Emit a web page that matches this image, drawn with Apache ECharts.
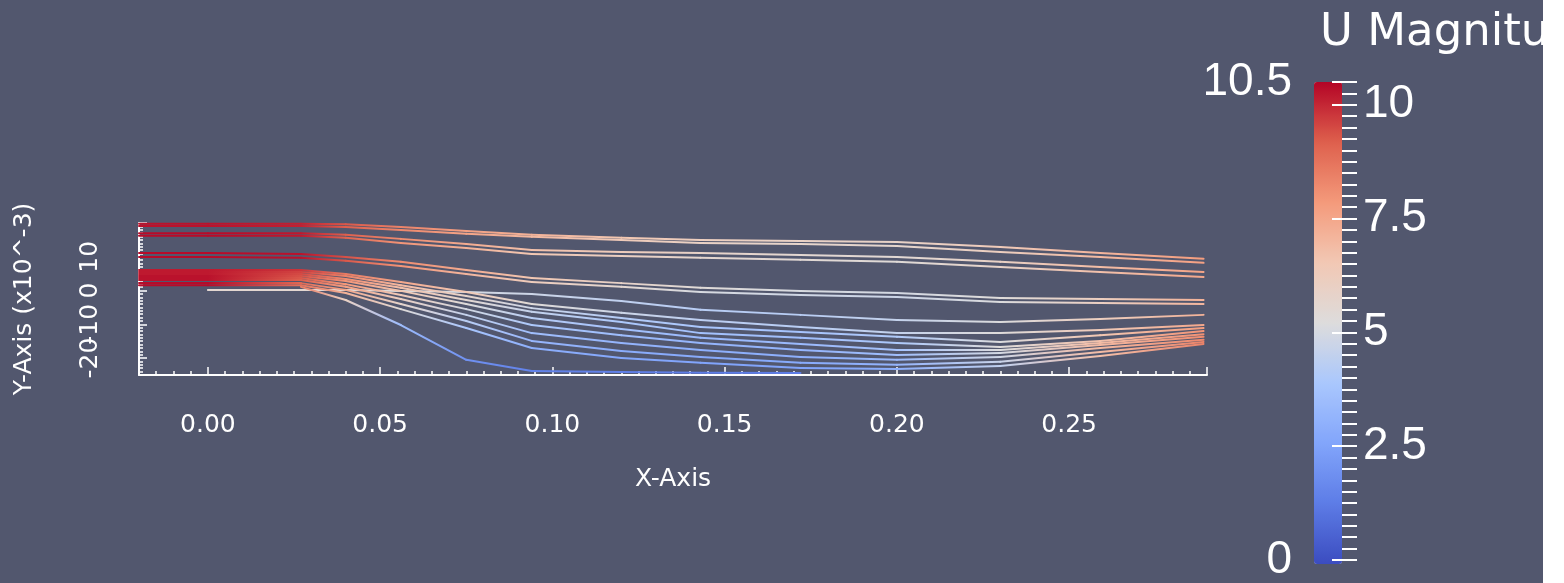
<!DOCTYPE html>
<html>
<head>
<meta charset="utf-8">
<script src="https://cdn.jsdelivr.net/npm/echarts@6/dist/echarts.min.js"></script>
<style>
  html, body { margin: 0; padding: 0; background: #52576e; }
  #main { width: 1564px; height: 583px; }
</style>
</head>
<body>
<div id="main"></div>
<script>
var stationX = [-0.02, 0.0, 0.027, 0.04, 0.056, 0.075, 0.094, 0.12, 0.143, 0.172, 0.2, 0.23, 0.259, 0.289];

// streamline heights, y in units of 1e-3 m (null = line not present there)
var yTop1 = [19.8, 19.8, 19.8, 19.6, 18.8, 17.6, 16.5, 15.6, 15.0, 14.7, 14.4, 12.9, 11.1, 9.4];
var yTop2 = [19.1, 19.1, 19.1, 18.8, 17.9, 16.8, 15.9, 15.0, 14.1, 13.8, 13.2, 11.4, 9.9, 8.2];
var yTop3 = [17.0, 17.0, 17.0, 16.5, 15.3, 13.8, 12.0, 11.4, 11.1, 10.5, 9.9, 8.5, 7.0, 5.5];
var yTop4 = [16.2, 16.2, 16.2, 15.6, 14.1, 12.6, 10.8, 10.2, 9.7, 9.1, 8.5, 7.0, 5.5, 4.0];
var yMid1 = [11.1, 11.1, 10.8, 9.9, 8.5, 6.1, 3.7, 2.2, 0.8, -0.1, -0.7, -2.2, -2.5, -2.8];
var yMid2 = [9.9, 9.9, 9.7, 8.8, 7.3, 4.9, 2.5, 1.1, -0.4, -1.3, -1.9, -3.4, -3.7, -4.0];
var yLow1 = [null, 0.2, 0.2, 0.2, -0.1, -0.4, -1.0, -3.1, -5.7, -7.2, -8.7, -9.3, -8.4, -7.2];
var yLow2 = [6.1, 6.1, 6.1, 4.9, 2.5, -0.4, -4.0, -6.6, -8.7, -10.8, -12.6, -12.6, -11.7, -10.2];
var yLow3 = [5.5, 5.5, 5.5, 4.3, 1.6, -1.6, -5.2, -8.1, -10.8, -12.3, -13.7, -15.2, -13.2, -11.1];
var yLow4 = [4.9, 4.9, 4.9, 3.4, 0.8, -2.8, -6.3, -9.3, -12.6, -14.0, -15.5, -16.7, -14.9, -12.0];
var yLow5 = [4.3, 4.3, 4.3, 2.8, -0.1, -4.0, -8.1, -11.4, -14.0, -15.8, -17.6, -17.6, -15.5, -12.9];
var yLow6 = [3.7, 3.7, 3.7, 1.9, -1.3, -5.5, -10.2, -13.2, -15.5, -17.6, -19.1, -18.5, -16.1, -13.7];
var yLow7 = [3.1, 3.1, 3.1, 1.1, -2.5, -7.2, -12.6, -15.5, -17.6, -19.7, -20.5, -19.7, -17.0, -14.6];
var yLow8 = [2.2, 2.2, 2.2, 0.2, -4.0, -9.0, -14.9, -17.9, -19.7, -21.4, -22.0, -21.1, -18.2, -15.2];
var yLow9 = [1.6, 1.6, 1.6, -0.7, -5.5, -11.1, -17.0, -20.0, -21.4, -22.9, -23.2, -22.3, -19.4, -15.8];
var yWall = [null, null, 1.1, -2.8, -10.2, -20.5, -23.8, -24.1, -24.3, -24.4, null, null, null, null];

// U magnitude along each streamline
var uTop1 = [10.3, 10.3, 10.1, 9.3, 8.4, 7.7, 7.2, 6.6, 6.2, 6.0, 5.9, 6.4, 7.1, 7.8];
var uTop2 = [10.3, 10.3, 10.1, 9.2, 8.3, 7.6, 7.0, 6.4, 6.0, 5.8, 5.7, 6.2, 7.0, 7.7];
var uTop3 = [10.4, 10.4, 10.2, 9.2, 8.2, 7.4, 6.8, 6.3, 5.9, 5.6, 5.5, 6.0, 6.9, 7.6];
var uTop4 = [10.4, 10.4, 10.2, 9.1, 8.0, 7.2, 6.6, 6.1, 5.7, 5.5, 5.4, 5.9, 6.8, 7.5];
var uMid1 = [10.4, 10.4, 10.3, 9.4, 8.2, 7.4, 6.6, 5.9, 5.4, 5.1, 5.0, 5.3, 6.2, 7.2];
var uMid2 = [10.4, 10.4, 10.3, 9.3, 8.0, 7.1, 6.3, 5.6, 5.1, 4.9, 4.8, 5.2, 6.1, 7.1];
var uLow1 = [null, 5.6, 5.6, 5.5, 5.3, 5.0, 4.8, 4.5, 4.3, 4.3, 4.6, 5.2, 6.2, 7.2];
var uLow2 = [10.2, 10.2, 9.8, 8.6, 7.5, 6.5, 5.4, 4.8, 4.4, 4.3, 4.6, 5.3, 6.4, 7.5];
var uLow3 = [10.2, 10.2, 9.6, 8.4, 7.0, 5.8, 4.8, 4.2, 3.9, 3.8, 4.1, 5.2, 6.6, 7.8];
var uLow4 = [10.2, 10.2, 9.5, 8.2, 6.8, 5.6, 4.6, 4.0, 3.7, 3.6, 4.0, 5.3, 6.8, 8.0];
var uLow5 = [10.3, 10.3, 9.4, 8.0, 6.6, 5.3, 4.3, 3.7, 3.4, 3.4, 3.8, 5.2, 6.9, 8.1];
var uLow6 = [10.3, 10.3, 9.3, 7.9, 6.4, 5.0, 4.0, 3.5, 3.2, 3.2, 3.6, 5.0, 7.0, 8.2];
var uLow7 = [10.3, 10.3, 9.2, 7.7, 6.1, 4.6, 3.6, 3.2, 3.0, 3.0, 3.4, 4.9, 7.0, 8.3];
var uLow8 = [10.4, 10.4, 9.0, 7.5, 5.8, 4.3, 3.3, 2.9, 2.8, 2.8, 3.2, 4.7, 6.9, 8.4];
var uLow9 = [10.4, 10.4, 8.8, 7.2, 5.4, 3.9, 3.0, 2.7, 2.6, 2.6, 3.0, 4.5, 6.8, 8.4];
var uWall = [null, null, 8.5, 6.0, 3.5, 2.0, 1.5, 1.4, 1.3, 1.3, null, null, null, null];

var streamlines = [
  [yTop1, uTop1], [yTop2, uTop2], [yTop3, uTop3], [yTop4, uTop4],
  [yMid1, uMid1], [yMid2, uMid2],
  [yLow1, uLow1], [yLow2, uLow2], [yLow3, uLow3], [yLow4, uLow4], [yLow5, uLow5],
  [yLow6, uLow6], [yLow7, uLow7], [yLow8, uLow8], [yLow9, uLow9], [yWall, uWall]
];

var uMin = 0, uMax = 10.5;

// cool to warm colour map
var cmapColors = ['#3b4cc0', '#5d7ce6', '#82a5fb', '#aac7fd', '#dddcdc', '#f2c8b4', '#f49a7b', '#de604d', '#b40426'];

function hexRgb(h) {
  return [parseInt(h.slice(1, 3), 16), parseInt(h.slice(3, 5), 16), parseInt(h.slice(5, 7), 16)];
}
function coolWarm(u) {
  var t = Math.max(0, Math.min(1, (u - uMin) / (uMax - uMin))) * (cmapColors.length - 1);
  var i = Math.min(Math.floor(t), cmapColors.length - 2), f = t - i;
  var a = hexRgb(cmapColors[i]), b = hexRgb(cmapColors[i + 1]);
  return 'rgb(' + Math.round(a[0] + (b[0] - a[0]) * f) + ',' +
    Math.round(a[1] + (b[1] - a[1]) * f) + ',' + Math.round(a[2] + (b[2] - a[2]) * f) + ')';
}

// one item per segment: [x1, y1, x2, y2, u1, u2]
var segments = [];
streamlines.forEach(function (s) {
  var ys = s[0], us = s[1];
  for (var i = 0; i < stationX.length - 1; i++) {
    if (ys[i] == null || ys[i + 1] == null) continue;
    segments.push([stationX[i], ys[i], stationX[i + 1], ys[i + 1], us[i], us[i + 1]]);
  }
});

function renderSegment(params, api) {
  var p1 = api.coord([api.value(0), api.value(1)]);
  var p2 = api.coord([api.value(2), api.value(3)]);
  return {
    type: 'line',
    shape: { x1: p1[0], y1: p1[1], x2: p2[0], y2: p2[1] },
    style: {
      stroke: new echarts.graphic.LinearGradient(p1[0], p1[1], p2[0], p2[1], [
        { offset: 0, color: coolWarm(api.value(4)) },
        { offset: 1, color: coolWarm(api.value(5)) }
      ], true),
      lineWidth: 2,
      lineCap: 'round'
    }
  };
}

function isMultiple(v, step) {
  return Math.abs(v / step - Math.round(v / step)) < 1e-6;
}

var white = '#ffffff';
var axisFont = 'DejaVu Sans';
var barFont = 'Liberation Sans';

var chart = echarts.init(document.getElementById('main'));
chart.setOption({
  backgroundColor: '#52576e',
  animation: false,
  grid: [
    { left: 139, top: 223, width: 1068, height: 152 },
    { left: 1314, top: 82, width: 28, height: 482 }
  ],
  visualMap: {
    type: 'continuous',
    min: uMin,
    max: uMax,
    dimension: 5,
    seriesIndex: 0,
    calculable: false,
    realtime: false,
    text: null,
    showLabel: false,
    left: 1314,
    top: 82,
    padding: 0,
    z: 1,
    itemWidth: 28,
    itemHeight: 482,
    inRange: { color: cmapColors }
  },
  xAxis: [
    {
      gridIndex: 0, type: 'value', position: 'bottom',
      min: -0.02, max: 0.29, interval: 0.005,
      axisLine: { onZero: false, lineStyle: { color: white, width: 2 } },
      axisTick: { inside: true, length: 4, lineStyle: { color: white, width: 1.5 } },
      splitLine: { show: false },
      axisLabel: {
        color: white, fontFamily: axisFont, fontSize: 25, margin: 38,
        formatter: function (v) { return isMultiple(v, 0.05) ? v.toFixed(2) : ''; }
      },
      name: 'X-Axis', nameLocation: 'middle', nameGap: 92,
      nameTextStyle: { color: white, fontFamily: axisFont, fontSize: 25 }
    },
    {
      gridIndex: 0, type: 'value', position: 'bottom',
      min: -0.02, max: 0.29, splitNumber: 6,
      axisLine: { show: false, onZero: false },
      axisTick: { inside: true, length: 8, lineStyle: { color: white, width: 1.5 } },
      axisLabel: { show: false },
      splitLine: { show: false }
    },
    { gridIndex: 1, type: 'value', min: 0, max: 1, show: false, axisLine: { onZero: false } }
  ],
  yAxis: [
    {
      gridIndex: 0, type: 'value', position: 'left',
      min: -25, max: 20, interval: 1,
      axisLine: { onZero: false, lineStyle: { color: white, width: 2 } },
      axisTick: { inside: true, length: 4, lineStyle: { color: white, width: 1.5 } },
      splitLine: { show: false },
      axisLabel: {
        color: white, fontFamily: axisFont, fontSize: 25, margin: 36, rotate: 90,
        formatter: function (v) { return (v < 20 && isMultiple(v, 10)) ? String(Math.round(v)) : ''; }
      },
      name: 'Y-Axis (x10^-3)', nameLocation: 'middle', nameGap: 102, nameRotate: 90,
      nameTextStyle: { color: white, fontFamily: axisFont, fontSize: 25 }
    },
    {
      gridIndex: 0, type: 'value', position: 'left',
      min: -25, max: 20, splitNumber: 4,
      axisLine: { show: false, onZero: false },
      axisTick: { inside: true, length: 8, lineStyle: { color: white, width: 1.5 } },
      axisLabel: { show: false },
      splitLine: { show: false }
    },
    {
      // colour bar ticks and labels
      gridIndex: 1, type: 'value', position: 'right', z: 10,
      min: uMin, max: uMax, interval: 0.25,
      axisLine: { show: false, onZero: false },
      axisTick: { length: 15, lineStyle: { color: white, width: 2 } },
      splitLine: { show: false },
      axisLabel: {
        color: white, fontFamily: barFont, fontSize: 46, margin: 21,
        formatter: function (v) { return v > 0 && isMultiple(v, 2.5) ? String(v) : ''; }
      }
    },
    {
      gridIndex: 1, type: 'value', position: 'right', z: 10,
      min: uMin, max: uMax, interval: 2.5,
      axisLine: { show: false, onZero: false },
      axisTick: { inside: true, length: 10, lineStyle: { color: white, width: 2 } },
      axisLabel: { show: false },
      splitLine: { show: false }
    },
    {
      gridIndex: 1, type: 'value', position: 'left', z: 10,
      min: uMin, max: uMax, interval: 0.25,
      axisLine: { show: false, onZero: false },
      axisTick: { show: false },
      splitLine: { show: false },
      axisLabel: {
        color: white, fontFamily: barFont, fontSize: 46, margin: 22,
        showMinLabel: true, showMaxLabel: true,
        formatter: function (v) { return (v === uMin || v === uMax) ? String(v) : ''; }
      }
    }
  ],
  series: [
    {
      type: 'custom',
      xAxisIndex: 0,
      yAxisIndex: 0,
      renderItem: renderSegment,
      encode: { x: [0, 2], y: [1, 3] },
      data: segments,
      silent: true
    }
  ],
  graphic: [
    {
      type: 'text', left: 1320, top: 11,
      style: { text: 'U Magnitude', fill: white, font: '45px "DejaVu Sans"' }
    },
    {
      type: 'rect', left: 1543, top: 0, z: 100,
      shape: { width: 21, height: 583 },
      style: { fill: '#ffffff' }
    }
  ]
});
</script>
</body>
</html>
